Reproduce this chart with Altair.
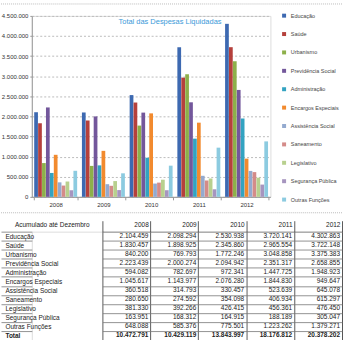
import altair as alt
import pandas as pd

years = ["2008", "2009", "2010", "2011", "2012"]
categories = ["Educação", "Saúde", "Urbanismo", "Previdência Social", "Administração",
              "Encargos Especiais", "Assistência Social", "Saneamento", "Legislativo",
              "Segurança Pública", "Outras Funções"]
v2008 = [2104459, 1830457, 840200, 2223439, 594082, 1045617, 360518, 280650, 381330, 163951, 648088]
v2009 = [2098294, 1898925, 769793, 2000274, 782697, 1143977, 314793, 274592, 392266, 168312, 585376]
v2010 = [2530938, 2345860, 1772246, 2094942, 972341, 2076280, 330457, 354098, 426415, 164915, 775501]
v2011 = [3720141, 2965554, 3048858, 2351317, 1447725, 1844830, 523639, 406934, 456361, 188189, 1223262]
v2012 = [4302863, 3722148, 3375383, 2658855, 1948923, 949647, 645078, 615297, 476450, 305047, 1379271]
totals = [10472791, 10429119, 13843997, 18176812, 20378202]
colors = ["#3D69B1", "#B5403C", "#8DB04A", "#73579B", "#33A3C1", "#F28A2E",
          "#94AACF", "#D48B89", "#B8D08E", "#A695BF", "#8CCBE0"]
title_text = "Total das Despesas Liquidadas"
header_text = "Acumulado até Dezembro"
total_label = "Total"
y_ticks = [0, 500000, 1000000, 1500000, 2000000, 2500000, 3000000, 3500000, 4000000, 4500000]

series = [v2008, v2009, v2010, v2011, v2012]


def fmt(v):
    return f"{v:,}".replace(",", ".")


bar_rows = []
for y, vals in zip(years, series):
    for c, v in zip(categories, vals):
        bar_rows.append({"Year": y, "Category": c, "Value": v})
bars_df = pd.DataFrame(bar_rows)

row_order = categories + [total_label]
table_rows = []
for y, vals, tot in zip(years, series, totals):
    for c, v in zip(categories, vals):
        table_rows.append({"Row": c, "Year": y, "Text": fmt(v), "B": 0})
    table_rows.append({"Row": total_label, "Year": y, "Text": fmt(tot), "B": 1})
table_df = pd.DataFrame(table_rows)

# ---------------- bar chart ----------------
bars = alt.Chart(bars_df).mark_bar().encode(
    x=alt.X("Year:N", sort=years,
            scale=alt.Scale(paddingInner=0.1, paddingOuter=0.05),
            axis=alt.Axis(title=None, labelAngle=0, labelFontSize=6, labelColor="#333",
                          tickSize=3, tickBand="extent", labelPadding=2,
                          domainColor="#999", tickColor="#999")),
    xOffset=alt.XOffset("Category:N", sort=categories,
                        scale=alt.Scale(paddingInner=0.05)),
    y=alt.Y("Value:Q", scale=alt.Scale(domain=[0, 4500000], nice=False),
            axis=alt.Axis(title=None, values=y_ticks,
                          labelExpr="replace(format(datum.value, ',d'), /,/g, '.')",
                          grid=True, gridDash=[2, 2], gridColor="#bbbbbb",
                          labelFontSize=6, labelColor="#333", tickSize=2, labelPadding=2,
                          domainColor="#999", tickColor="#999")),
    color=alt.Color("Category:N", sort=categories,
                    scale=alt.Scale(domain=categories, range=colors),
                    legend=alt.Legend(title=None, orient="none", legendX=251, legendY=-3,
                                      symbolType="square",
                                      symbolSize=16, labelFontSize=5.5, rowPadding=11.5,
                                      labelColor="#444", symbolStrokeWidth=0)),
)

title_layer = alt.Chart(pd.DataFrame({"t": [title_text]})).mark_text(
    fontSize=7.5, color="#3A9AD9", align="center", baseline="middle"
).encode(x=alt.value(139), y=alt.value(6), text="t:N")

one = pd.DataFrame({"k": [0]})
top_border = alt.Chart(one).mark_rule(color="#bbbbbb", strokeDash=[1, 1]).encode(
    x=alt.value(-31), x2=alt.value(312), y=alt.value(-12))
bottom_border = alt.Chart(one).mark_rule(color="#bbbbbb", strokeDash=[1, 1]).encode(
    x=alt.value(-31), x2=alt.value(312), y=alt.value(198))

top = alt.layer(bars, title_layer, top_border, bottom_border).properties(width=240, height=182)

# ---------------- table ----------------
y_enc = alt.Y("Row:N", sort=row_order,
              scale=alt.Scale(domain=row_order, paddingInner=0, paddingOuter=0),
              axis=alt.Axis(title=None, domain=False, tickBand="extent",
                            grid=True, gridColor="#777", gridWidth=0.8,
                            ticks=True, tickSize=31, tickColor="#777", tickWidth=0.8,
                            labelAlign="left", labelPadding=-4,
                            labelBaseline="middle", labelFontSize=6.5, labelColor="#222",
                            labelFontWeight={"condition": {"test": "datum.value == 'Total'",
                                                           "value": "bold"},
                                             "value": "normal"}))

x_enc = alt.X("Year:N", sort=years, bandPosition=1,
              scale=alt.Scale(domain=years, range=[71, 312], paddingInner=0, paddingOuter=0),
              axis=alt.Axis(orient="top", tickBand="extent", grid=True, gridColor="#333",
                            gridWidth=0.8, ticks=True, tickSize=11, tickColor="#333",
                            tickWidth=0.8, domain=False, labelAngle=0, labelAlign="right",
                            labelOffset=22, labelPadding=-7, labelBaseline="bottom",
                            labelFontSize=6.5, labelColor="#222", labelOverlap=False,
                            title=header_text, titleX=20, titleY=-4,
                            titleAlign="center", titleBaseline="bottom",
                            titleFontWeight="normal", titleFontSize=6.5, titleColor="#222"))


def value_layer(bold):
    return alt.Chart(table_df).transform_filter(f"datum.B == {bold}").mark_text(
        align="right", baseline="middle", fontSize=6.5, color="#222", dx=-2,
        fontWeight="bold" if bold else "normal"
    ).encode(x=x_enc, y=y_enc, text="Text:N")


table = alt.layer(value_layer(0), value_layer(1)).properties(width=312, height=109)

chart = alt.vconcat(top, table, spacing=6).properties(
    padding={"left": 0, "top": 2, "right": 0, "bottom": 0}
).configure_view(stroke=None).configure(font="Liberation Sans")

chart.save("out.html", embed_options={"renderer": "svg", "actions": False})
